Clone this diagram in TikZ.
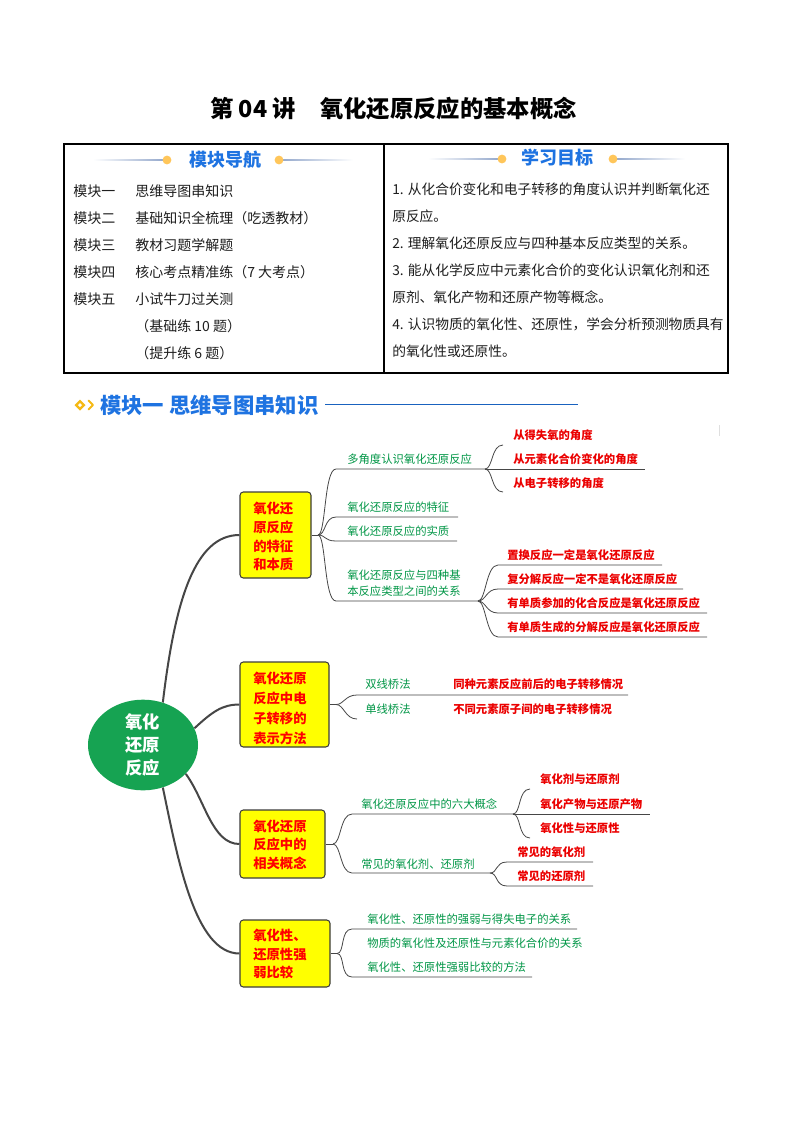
\documentclass[tikz,border=0pt]{standalone}
\usepackage{fontspec}
\setmainfont{Noto Sans CJK SC}
\usetikzlibrary{fit,shapes.geometric}
\definecolor{mgreen}{RGB}{0,150,70}
\definecolor{mred}{RGB}{235,0,0}
\definecolor{bred}{RGB}{255,0,0}
\definecolor{myellow}{RGB}{255,255,0}
\definecolor{boxline}{RGB}{60,60,60}
\definecolor{cgreen}{RGB}{22,163,82}
\definecolor{hblue}{RGB}{30,115,225}
\definecolor{dotor}{RGB}{255,198,90}
\definecolor{hdline}{RGB}{150,170,205}
\definecolor{lineg}{RGB}{70,70,70}
\definecolor{txtc}{RGB}{30,30,30}
\definecolor{iconc}{RGB}{245,185,20}
\newcommand\mylink[3]{\draw[br] (#1) .. controls +(8,0) and +(-12,0) .. (#2) -- (#3);}
\newcommand\mycurve[2]{\draw[br] (#1) .. controls +(8,0) and +(-12,0) .. (#2);}
\begin{document}
\begin{tikzpicture}[x=0.75pt,y=-0.75pt,
  titlef/.style={anchor=west,inner sep=0pt,text=black,font=\bfseries\fontsize{17.5}{20}\selectfont},
  hdr/.style={inner sep=0pt,text=hblue,font=\bfseries\fontsize{13.5}{16}\selectfont},
  lt/.style={anchor=west,inner sep=0pt,text=txtc,font=\fontsize{10.5}{12}\selectfont},
  rtx/.style={anchor=west,inner sep=0pt,text=txtc,font=\fontsize{10.3}{12}\selectfont},
  tab/.style={draw=black,line width=0.8pt},
  gt/.style={anchor=west,inner sep=0pt,text=mgreen,font=\fontsize{8.5}{10}\selectfont},
  rt/.style={anchor=west,inner sep=0pt,text=mred,font=\bfseries\fontsize{8.5}{10}\selectfont},
  bt/.style={anchor=west,inner sep=0pt,text=bred,font=\bfseries\fontsize{10}{12}\selectfont},
  ybox/.style={draw=boxline,fill=myellow,rounded corners=2.5pt,line width=0.8pt,inner sep=0pt},
  br/.style={draw=lineg,line width=0.6pt},
  mainc/.style={draw=lineg,line width=1.5pt},
  ct/.style={inner sep=0pt,text=white,font=\bfseries\fontsize{13}{15}\selectfont}
]
\useasboundingbox[fill=white] (0,0) rectangle (793,1122);

% title
\node[titlef] (ttl1) at (210,109) {第 04 讲};
\node[titlef] (ttl2) at (320,109) {氧化还原反应的基本概念};

% table
\draw[tab] (64,144) rectangle (728,373);
\draw[tab] (384,144) -- (384,373);

% left header
\shade[left color=white,right color=hdline] (93,159.3) rectangle (163,160.7);
\shade[left color=hdline,right color=white] (283,159.3) rectangle (353,160.7);
\fill[dotor] (167,160) circle[radius=3.3pt];
\fill[dotor] (279,160) circle[radius=3.3pt];
\node[hdr] (h1) at (225,160) {模块导航};

% right header
\shade[left color=white,right color=hdline] (428,158.3) rectangle (498,159.7);
\shade[left color=hdline,right color=white] (617,158.3) rectangle (685,159.7);
\fill[dotor] (502,159) circle[radius=3.3pt];
\fill[dotor] (613,159) circle[radius=3.3pt];
\node[hdr] (h2) at (557,158) {学习目标};

% left rows
\node[lt] (m1) at (73,191.5) {模块一};
\node[lt] (m1t) at (135,191.5) {思维导图串知识};
\node[lt] (m2) at (73,218.5) {模块二};
\node[lt] (m2t) at (135,218.5) {基础知识全梳理（吃透教材）};
\node[lt] (m3) at (73,245.5) {模块三};
\node[lt] (m3t) at (135,245.5) {教材习题学解题};
\node[lt] (m4) at (73,272.5) {模块四};
\node[lt] (m4t) at (135,272.5) {核心考点精准练（7 大考点）};
\node[lt] (m5) at (73,299.5) {模块五};
\node[lt] (m5t) at (135,299.5) {小试牛刀过关测};
\node[lt] (m6t) at (135,326.5) {（基础练 10 题）};
\node[lt] (m7t) at (135,353.5) {（提升练 6 题）};

% right rows
\node[rtx] (g1) at (392,189) {1. 从化合价变化和电子转移的角度认识并判断氧化还};
\node[rtx] (g2) at (392,216) {原反应。};
\node[rtx] (g3) at (392,243) {2. 理解氧化还原反应与四种基本反应类型的关系。};
\node[rtx] (g4) at (392,270) {3. 能从化学反应中元素化合价的变化认识氧化剂和还};
\node[rtx] (g5) at (392,297) {原剂、氧化产物和还原产物等概念。};
\node[rtx] (g6) at (392,324) {4. 认识物质的氧化性、还原性，学会分析预测物质具有};
\node[rtx] (g7) at (392,351) {的氧化性或还原性。};

% section header
\fill[iconc] (80,399.5) -- (85.5,405) -- (80,410.5) -- (74.5,405) -- cycle;
\fill[white] (80,403) -- (82,405) -- (80,407) -- (78,405) -- cycle;
\draw[iconc,line width=1.5pt,line join=round,line cap=round] (88.5,400.5) -- (93,405) -- (88.5,409.5);
\node[anchor=west,inner sep=0pt,text=hblue,font=\bfseries\fontsize{16}{18}\selectfont] (sec) at (100,405.5) {模块一 思维导图串知识};
\draw[hblue!85!black,line width=0.8pt] (325,404.5) -- (578,404.5);
\draw[gray!25,line width=0.6pt] (719,425) -- (719,436);

% central node
\node[ellipse,fill=cgreen,minimum width=82.5pt,minimum height=68pt,inner sep=0pt] (c) at (143,745) {};
\node[ct] (c1) at (142.5,722) {氧化};
\node[ct] (c2) at (142.5,745) {还原};
\node[ct] (c3) at (142.5,768) {反应};

% boxes
\coordinate (b1a) at (240,492); \coordinate (b1b) at (311,578);
\node[ybox,fit=(b1a)(b1b)] (b1) {};
\node[bt] at (253,508) {氧化还};
\node[bt] at (253,527) {原反应};
\node[bt] at (253,546) {的特征};
\node[bt] at (253,564) {和本质};

\coordinate (b2a) at (240,662); \coordinate (b2b) at (329,747);
\node[ybox,fit=(b2a)(b2b)] (b2) {};
\node[bt] at (253,678) {氧化还原};
\node[bt] at (253,698) {反应中电};
\node[bt] at (253,718) {子转移的};
\node[bt] at (253,738) {表示方法};

\coordinate (b3a) at (240,810); \coordinate (b3b) at (325,878);
\node[ybox,fit=(b3a)(b3b)] (b3) {};
\node[bt] at (253,826) {氧化还原};
\node[bt] at (253,844.5) {反应中的};
\node[bt] at (253,863) {相关概念};

\coordinate (b4a) at (240,920); \coordinate (b4b) at (330,987);
\node[ybox,fit=(b4a)(b4b)] (b4) {};
\node[bt] at (253,935) {氧化性、};
\node[bt] at (253,954) {还原性强};
\node[bt] at (253,972) {弱比较};

% main connectors
\draw[mainc] (c.65) .. controls (175,600) and (195,535) .. (b1.west);
\draw[mainc] (c.18) .. controls (212,712) and (222,704.5) .. (b2.west);
\draw[mainc] (c.-34) .. controls (205,800) and (212,844) .. (b3.west);
\draw[mainc] (c.-65) .. controls (178,860) and (195,953.5) .. (b4.west);

% ---- box 1 branches
\coordinate (B1) at (318,535);
\draw[br] (b1.east) -- (B1);
\coordinate (t11) at (336,469); \coordinate (e11) at (485,469);
\coordinate (t12) at (336,517); \coordinate (e12) at (458,517);
\coordinate (t13) at (336,541); \coordinate (e13) at (457,541);
\coordinate (t14) at (336,601); \coordinate (e14) at (478,601);
\mylink{B1}{t11}{e11}
\mylink{B1}{t12}{e12}
\mylink{B1}{t13}{e13}
\mylink{B1}{t14}{e14}
\node[gt] (n11) at (347,459) {多角度认识氧化还原反应};
\node[gt] (n12) at (347,507) {氧化还原反应的特征};
\node[gt] (n13) at (347,531) {氧化还原反应的实质};
\node[gt] (n14a) at (347,575) {氧化还原反应与四种基};
\node[gt] (n14b) at (347,591) {本反应类型之间的关系};

\coordinate (s11) at (503,445);
\coordinate (s12) at (645,469);
\coordinate (s13) at (503,492);
\mycurve{e11}{s11}
\draw[br] (e11) -- (s12);
\mycurve{e11}{s13}
\node[rt] (r11) at (513,435) {从得失氧的角度};
\node[rt] (r12) at (513,459) {从元素化合价变化的角度};
\node[rt] (r13) at (513,483) {从电子转移的角度};

\coordinate (u1) at (498,565); \coordinate (v1) at (662,565);
\coordinate (u2) at (498,589); \coordinate (v2) at (683,589);
\coordinate (u3) at (498,613); \coordinate (v3) at (707,613);
\coordinate (u4) at (498,637); \coordinate (v4) at (707,637);
\mylink{e14}{u1}{v1}
\mylink{e14}{u2}{v2}
\mylink{e14}{u3}{v3}
\mylink{e14}{u4}{v4}
\node[rt] (q1) at (507,555) {置换反应一定是氧化还原反应};
\node[rt] (q2) at (507,579) {复分解反应一定不是氧化还原反应};
\node[rt] (q3) at (507,603) {有单质参加的化合反应是氧化还原反应};
\node[rt] (q4) at (507,627) {有单质生成的分解反应是氧化还原反应};

% ---- box 2 branches
\coordinate (B2) at (336,704.5);
\draw[br] (b2.east) -- (B2);
\coordinate (t21) at (357,695); \coordinate (e21) at (628,695);
\coordinate (t22) at (357,719);
\mylink{B2}{t21}{e21}
\mycurve{B2}{t22}
\node[gt] (n21) at (365,684) {双线桥法};
\node[rt] (r21) at (453,684) {同种元素反应前后的电子转移情况};
\node[gt] (n22) at (365,709) {单线桥法};
\node[rt] (r22) at (453,709) {不同元素原子间的电子转移情况};

% ---- box 3 branches
\coordinate (B3) at (333,844);
\draw[br] (b3.east) -- (B3);
\coordinate (t31) at (352,814); \coordinate (e31) at (513,814);
\coordinate (t32) at (352,873); \coordinate (e32) at (490,873);
\mylink{B3}{t31}{e31}
\mylink{B3}{t32}{e32}
\node[gt] (n31) at (361,804) {氧化还原反应中的六大概念};
\node[gt] (n32) at (361,864) {常见的氧化剂、还原剂};
\coordinate (s31) at (530,789);
\coordinate (s32) at (650,814);
\coordinate (s33) at (530,838);
\mycurve{e31}{s31}
\draw[br] (e31) -- (s32);
\mycurve{e31}{s33}
\node[rt] (r31) at (540,779) {氧化剂与还原剂};
\node[rt] (r32) at (540,804) {氧化产物与还原产物};
\node[rt] (r33) at (540,828) {氧化性与还原性};
\coordinate (w1) at (507,862); \coordinate (x1) at (593,862);
\coordinate (w2) at (507,886); \coordinate (x2) at (593,886);
\mylink{e32}{w1}{x1}
\mylink{e32}{w2}{x2}
\node[rt] (r34) at (517,852) {常见的氧化剂};
\node[rt] (r35) at (517,876) {常见的还原剂};

% ---- box 4 branches
\coordinate (B4) at (337,953.5);
\draw[br] (b4.east) -- (B4);
\coordinate (t41) at (352,929); \coordinate (e41) at (577,929);
\coordinate (t43) at (352,977); \coordinate (e43) at (532,977);
\mylink{B4}{t41}{e41}
\mylink{B4}{t43}{e43}
\node[gt] (n41) at (367,919) {氧化性、还原性的强弱与得失电子的关系};
\node[gt] (n42) at (367,943) {物质的氧化性及还原性与元素化合价的关系};
\node[gt] (n43) at (367,967) {氧化性、还原性强弱比较的方法};
\end{tikzpicture}
\end{document}
